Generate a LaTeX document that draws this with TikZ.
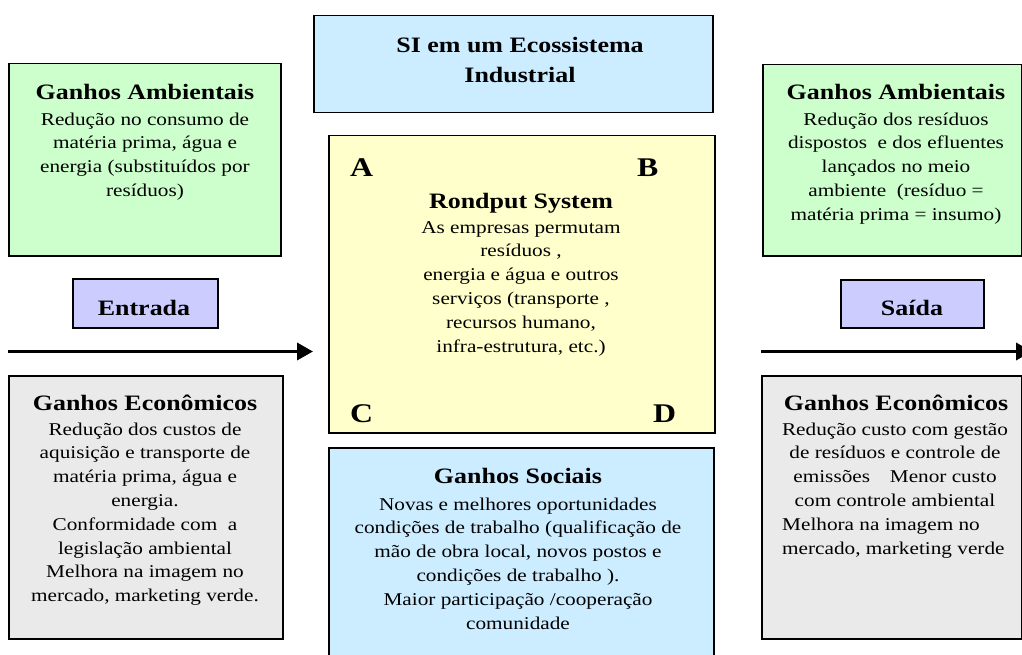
\documentclass[tikz,border=0pt]{standalone}
\usepackage{fontspec}
\setmainfont{Liberation Serif}[FakeStretch=1.18]
\usetikzlibrary{arrows.meta}
\definecolor{cgreen}{HTML}{CCFFCC}
\definecolor{cgray}{HTML}{EAEAEA}
\definecolor{cblue}{HTML}{CCECFF}
\definecolor{cyellow}{HTML}{FFFFCC}
\definecolor{cpurple}{HTML}{CCCCFF}
\tikzset{
 box/.style={draw=black, line width=1.5pt, inner sep=0pt, anchor=north west},
 hd/.style={font=\fontsize{22}{24}\selectfont\bfseries, inner sep=0pt, anchor=base},
 bd/.style={font=\fontsize{18}{23.8}\selectfont, inner sep=0pt, anchor=base, align=center},
 bdl/.style={font=\fontsize{18}{23.8}\selectfont, inner sep=0pt, anchor=base west, align=left},
 big/.style={font=\fontsize{27}{30}\selectfont\bfseries, inner sep=0pt, anchor=base west},
 flow/.style={line width=3.5pt, -{Triangle[length=16pt,width=17pt]}},
}
\begin{document}
\begin{tikzpicture}[x=1pt,y=-1pt]
\useasboundingbox (0,0) rectangle (1022,655);
\clip (0,0) rectangle (1022,655);
% boxes
\node[box, fill=cgreen, minimum width=272pt, minimum height=192pt] (envL) at (8,63) {};
\node[box, fill=cgreen, minimum width=259pt, minimum height=191pt] (envR) at (762,64) {};
\node[box, fill=cpurple, minimum width=145pt, minimum height=49pt] (entrada) at (72,278) {};
\node[box, fill=cpurple, minimum width=143pt, minimum height=48pt] (saida) at (840,279) {};
\node[box, fill=cgray, minimum width=274pt, minimum height=263pt] (ecoL) at (8,375) {};
\node[box, fill=cgray, minimum width=260pt, minimum height=263pt] (ecoR) at (761,375) {};
\node[box, fill=cblue, minimum width=399pt, minimum height=97pt] (si) at (313,15) {};
\node[box, fill=cyellow, minimum width=386pt, minimum height=297pt] (rond) at (328,135) {};
\node[box, fill=cblue, minimum width=385pt, minimum height=240pt] (social) at (328,447) {};
% arrows
\coordinate (inL) at (8,351.5);
\coordinate (outS) at (761,351.5);
\coordinate (outE) at (1032,351.5);
\draw[flow, shorten >=15pt] (inL) -- (rond.west |- inL);
\draw[flow] (outS) -- (outE);
% texts (multi-line nodes: base = baseline of last line)
\node[hd] (siT1) at (520,53) {SI em um Ecossistema};
\node[hd] (siT2) at (520,83) {Industrial};
\node[hd] (envLh) at (145,100) {Ganhos Ambientais};
\node[bd] (envLb) at (145,196.4) {Redução no consumo de\\matéria prima, água e\\energia (substituídos por\\resíduos)};
\node[hd] (envRh) at (896,100) {Ganhos Ambientais};
\node[bd] (envRb) at (896,220.2) {Redução dos resíduos\\dispostos\ \ e dos efluentes\\lançados no meio\\ambiente\ \ (resíduo =\\matéria prima = insumo)};
\node[hd] (entT) at (144,315) {Entrada};
\node[hd] (saiT) at (912,315) {Saída};
\node[big] (lA) at (350,177) {A};
\node[big] (lB) at (637,177) {B};
\node[big] (lC) at (350,422) {C};
\node[big] (lD) at (653,422) {D};
\node[hd] (rondh) at (521,208) {Rondput System};
\node[bd] (rondb) at (521,352) {As empresas permutam\\resíduos ,\\energia e água e outros\\serviços (transporte ,\\recursos humano,\\infra-estrutura, etc.)};
\node[hd] (socH) at (518,483) {Ganhos Sociais};
\node[bd] (socB) at (518,629) {Novas e melhores oportunidades\\condições de trabalho (qualificação de\\mão de obra local, novos postos e\\condições de trabalho ).\\Maior participação /cooperação\\comunidade};
\node[hd] (ecoLh) at (145,410) {Ganhos Econômicos};
\node[bd] (ecoLb) at (145,601.6) {Redução dos custos de\\aquisição e transporte de\\matéria prima, água e\\energia.\\Conformidade com\ \ a\\legislação ambiental\\Melhora na imagem no\\mercado, marketing verde.};
\node[hd] (ecoRh) at (896,410) {Ganhos Econômicos};
\node[bd] (ecoRb) at (895,506.4) {Redução custo com gestão\\de resíduos e controle de\\emissões\hspace{1.1em}Menor custo\\com controle ambiental};
\node[bdl] (ecoRb2) at (782,554) {Melhora na imagem no\\mercado, marketing verde};
\end{tikzpicture}
\end{document}
